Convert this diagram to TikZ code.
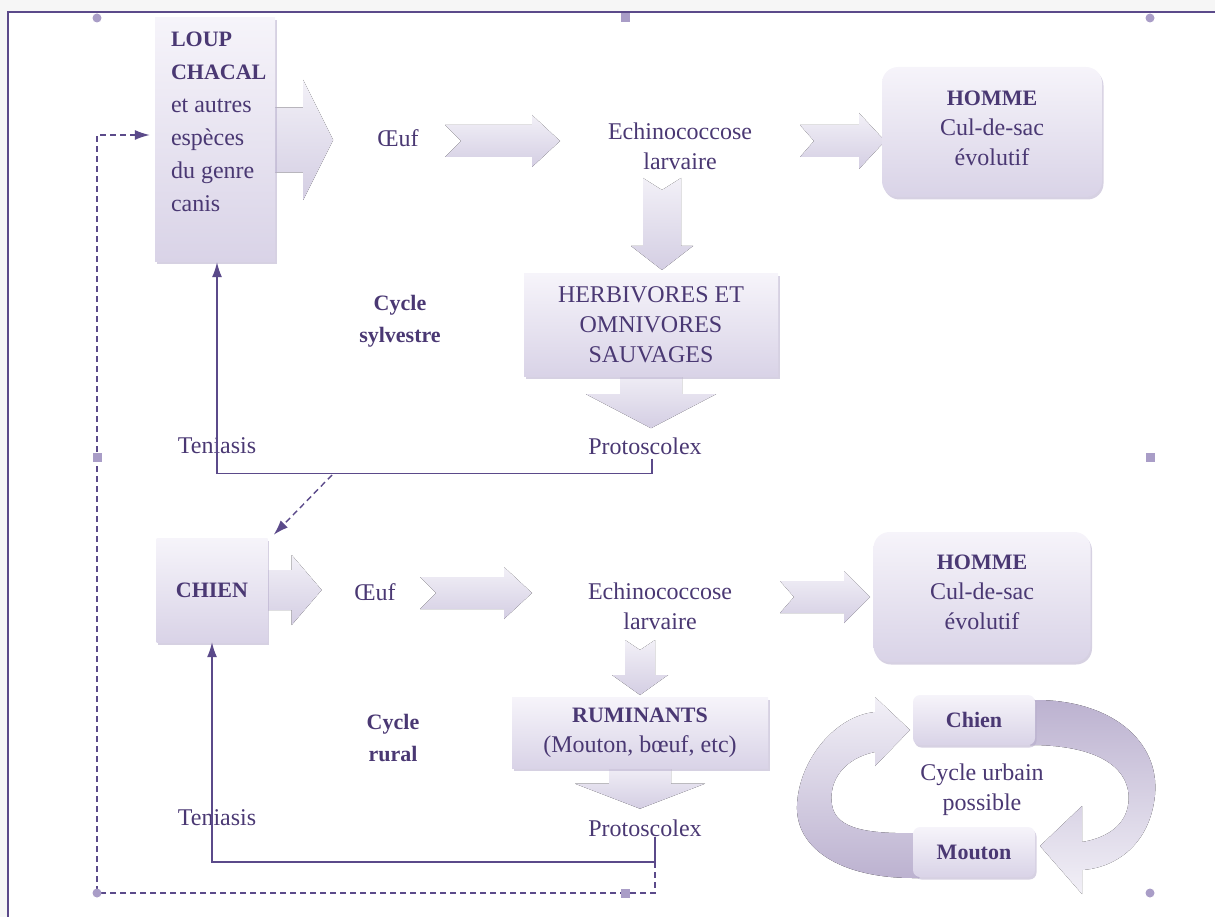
\documentclass[tikz,border=0pt]{standalone}
\usepackage{fontspec}
\setmainfont{Liberation Serif}
\usetikzlibrary{positioning}
\usetikzlibrary{arrows.meta}
\usetikzlibrary{shadows,backgrounds,calc}

\definecolor{txtpurple}{HTML}{4A3873}
\definecolor{linepurple}{HTML}{5B4A8A}
\definecolor{lavtop}{HTML}{F6F4FA}
\definecolor{lavbot}{HTML}{D9D3E7}
\definecolor{arrtop}{HTML}{F2F0F7}
\definecolor{arrbot}{HTML}{D4CEE3}
\definecolor{ribdark}{HTML}{BCB2D0}
\definecolor{handle}{HTML}{A99DC7}
\definecolor{shadowlav}{HTML}{B5ABCB}

\tikzset{txt/.style={text=txtpurple,font=\fontsize{24}{30}\selectfont,align=center,inner sep=0pt},
         tbold/.style={txt,font=\fontsize{22}{32}\selectfont\bfseries},
         host box/.style={txt,rectangle,top color=lavtop,bottom color=lavbot,
           drop shadow={shadow xshift=1.5pt,shadow yshift=-2.5pt,opacity=0.55,fill=shadowlav}},
         end box/.style={host box,rounded corners=16pt},
         urb box/.style={host box,rounded corners=7pt,minimum width=122,minimum height=50},
         arrow body/.style={top color=arrtop,bottom color=arrbot},
         flow/.style={draw=linepurple,line width=1.4pt,-{Latex[length=15pt,width=10pt]}},
         dashflow/.style={flow,dash pattern=on 6pt off 4pt},}

% block arrow: position, angle, length, shaft, head, head length, notch
\newcommand{\blockarrow}[7]{%
  \fill[arrow body,shift={#1},rotate=#2]
    (0,-#4/2) -- ({#3-#6},-#4/2) -- ({#3-#6},-#5/2) -- (#3,0)
    -- ({#3-#6},#5/2) -- ({#3-#6},#4/2) -- (0,#4/2) -- (#7,0) -- cycle;}

\begin{document}
\begin{tikzpicture}[x=1pt,y=-1pt]
    \useasboundingbox (0,0) rectangle (1215,917);
    % window frame
    \fill[gray!7] (0,0) rectangle (1215,12);
    \fill[gray!7] (0,0) rectangle (8,917);
    \draw[linepurple,line width=2pt] (8,917) -- (8,12) -- (1215,12);

    % cycle sylvestre
    \node[host box,minimum width=120,minimum height=244] (loup) at (215,140) {};
    \node[txt,align=left,anchor=north west,font=\fontsize{24}{33}\selectfont] (louptext)
        at ([shift={(16,14)}]loup.north west)
        {{\fontsize{22}{33}\selectfont\bfseries LOUP}\\{\fontsize{22}{33}\selectfont\bfseries CHACAL}\\et autres\\espèces\\du genre\\canis};
    \node[txt] (oeuf1) at (398,138) {Œuf};
    \node[txt] (echino1) at (680,146) {Echinococcose\\larvaire};
    \node[end box,minimum width=220,minimum height=130] (homme1) at (992,132)
        {{\fontsize{22}{30}\selectfont\bfseries HOMME}\\Cul-de-sac\\évolutif\\[-22pt]};
    \node[host box,minimum width=254,minimum height=102] (herb) at (651,325)
        {HERBIVORES ET\\OMNIVORES\\SAUVAGES};
    \node[txt] (proto1) at (645,446) {Protoscolex};
    \node[txt] (tenia1) at (217,446) {Teniasis};
    \node[tbold] (sylv) at (400,321) {Cycle\\sylvestre};
    \coordinate (branch) at (332,475);

    % cycle rural
    \node[host box,minimum width=111,minimum height=104] (chien) at (212,590)
        {\fontsize{22}{30}\selectfont\bfseries CHIEN};
    \node[txt] (oeuf2) at (375,592) {Œuf};
    \node[txt] (echino2) at (660,606) {Echinococcose\\larvaire};
    \node[end box,minimum width=217,minimum height=130] (homme2) at (982,597)
        {{\fontsize{22}{30}\selectfont\bfseries HOMME}\\Cul-de-sac\\évolutif\\[-20pt]};
    \node[host box,minimum width=256,minimum height=71] (rumin) at (640,733)
        {{\fontsize{22}{32}\selectfont\bfseries RUMINANTS}\\(Mouton, bœuf, etc)};
    \node[txt] (proto2) at (645,828) {Protoscolex};
    \node[txt] (tenia2) at (217,818) {Teniasis};
    \node[tbold] (rural) at (393,738) {Cycle\\rural};
    \coordinate (rtick) at (655,862);
    \coordinate (sw) at (97,893);

    % cycle urbain
    \node[urb box] (chienU) at (974,720) {\fontsize{22}{30}\selectfont\bfseries Chien};
    \node[urb box] (moutonU) at (974,852) {\fontsize{22}{30}\selectfont\bfseries Mouton};
    \node[txt] (urbain) at (982,790) {Cycle urbain\\possible};

    \begin{scope}[on background layer]
    \blockarrow{([xshift=-5pt]loup.east)}{0}{63}{65}{120}{30}{0}
    \blockarrow{(445,141)}{0}{115}{32}{52}{28}{16}
    \blockarrow{(800,141)}{0}{85}{32}{56}{26}{14}
    \blockarrow{(662,178)}{-90}{92}{38}{62}{24}{12}
    \blockarrow{([yshift=6pt]herb.south)}{-90}{58}{62}{130}{34}{0}
    \blockarrow{([xshift=-4pt]chien.east)}{0}{58}{40}{70}{30}{0}
    \blockarrow{(420,593)}{0}{112}{32}{52}{28}{16}
    \blockarrow{(780,597)}{0}{90}{32}{52}{26}{14}
    \blockarrow{(640,640)}{-90}{55}{30}{56}{20}{10}
    \blockarrow{([yshift=4pt]rumin.south)}{-90}{44}{62}{130}{25}{0}
    % ribbons round chien and mouton
    \fill[top color=ribdark,bottom color=arrtop] (1030,700) -- (1036,700)
        .. controls (1110,700) and (1160,740) .. (1155,795)
        .. controls (1150,845) and (1115,868) .. (1082,870)
        -- (1082,894) -- (1040,846) -- (1082,806) -- (1082,842)
        .. controls (1118,836) and (1132,815) .. (1128,790)
        .. controls (1122,760) and (1085,745) .. (1030,745) -- cycle;
    \fill[top color=arrtop,bottom color=ribdark] (919,878) -- (913,878)
        .. controls (840,878) and (795,848) .. (797,805)
        .. controls (799,760) and (835,716) .. (875,712)
        -- (875,697) -- (910,730) -- (875,766) -- (875,752)
        .. controls (845,758) and (828,780) .. (832,805)
        .. controls (836,830) and (870,834) .. (919,833) -- cycle;
    \end{scope}

    % connectors
    \draw[flow] ([shift={(7,4)}]proto1.south) -- ++(0,15) -| ([xshift=2pt]loup.south);
    \draw[dashflow] (branch) -- ([shift={(6,-3)}]chien.north east);
    \draw[flow] ([xshift=10pt]proto2.south) -- (rtick) -| (chien.south);
    \draw[dashflow,shorten >=5pt] (rtick) |- (sw) |- ([yshift=5pt]loup.west);

    % selection handles
    \foreach \hx/\hy in {97/18,1150/18,97/893,1150/893}
        \fill[handle] (\hx,\hy) circle (4.5pt);
    \foreach \hx/\hy in {625/18,97/457,1150/457,625/893}
        \fill[handle] (\hx-4.5,\hy-4.5) rectangle ++(9,9);
\end{tikzpicture}
\end{document}
